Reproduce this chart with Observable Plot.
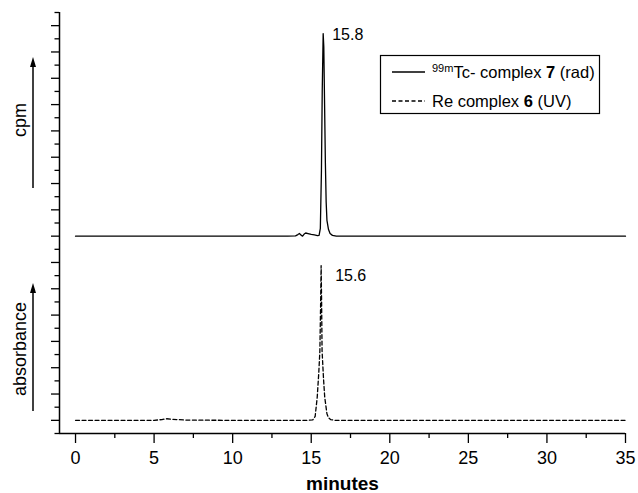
<!DOCTYPE html>
<html>
<head>
<meta charset="utf-8">
<script src="https://cdn.jsdelivr.net/npm/d3@7"></script>
<script src="https://cdn.jsdelivr.net/npm/@observablehq/plot@0.6"></script>
<style>
  html, body { margin: 0; padding: 0; background: #fff; }
  #chart { width: 638px; height: 493px; }
  svg { font-family: "Liberation Sans", Arial, sans-serif; }
</style>
</head>
<body>
<div id="chart"></div>
<script>
// ---- data ----
// radiometric trace (99mTc complex 7), offset baseline at 7
const radTime  = [0, 5, 10, 13.5, 14.0, 14.15, 14.25, 14.35, 14.45, 14.55, 14.65, 14.8, 15.0, 15.2, 15.4, 15.5, 15.58, 15.65, 15.7, 15.76, 15.8, 15.85, 15.9, 15.95, 16.0, 16.1, 16.2, 16.35, 16.6, 20, 25, 30, 35];
const radValue = [7.0, 7.0, 7.0, 7.0, 7.01, 7.06, 7.1, 7.04, 7.0, 7.08, 7.12, 7.1, 7.07, 7.05, 7.02, 7.03, 7.3, 9.5, 12.5, 14.7, 14.2, 12.0, 9.8, 8.3, 7.6, 7.25, 7.1, 7.03, 7.0, 7.0, 7.0, 7.0, 7.0];
// UV trace (Re complex 6), baseline at 0
const uvTime  = [0, 5.0, 5.5, 5.8, 6.2, 7.0, 10, 14.8, 15.1, 15.25, 15.38, 15.48, 15.55, 15.6, 15.63, 15.66, 15.69, 15.78, 15.86, 16.0, 16.1, 16.23, 16.5, 20, 35];
const uvValue = [0.0, 0.0, 0.03, 0.06, 0.04, 0.01, 0.0, 0.0, 0.02, 0.15, 0.87, 1.8, 2.64, 4.5, 5.88, 4.5, 2.64, 1.6, 0.87, 0.25, 0.1, 0.03, 0.0, 0.0, 0.0];

const peakLabels = ["15.8", "15.6"];
const xTicks = [0, 5, 10, 15, 20, 25, 30, 35];
const xMinorTicks = [2.5, 7.5, 12.5, 17.5, 22.5, 27.5, 32.5];
const yMajorTicks = [0, 1, 2, 3, 4, 5, 6, 7, 8, 9, 10, 11, 12, 13, 14, 15];
const yMinorTicks = [-0.5, 0.5, 1.5, 2.5, 3.5, 4.5, 5.5, 6.5, 7.5, 8.5, 9.5, 10.5, 11.5, 12.5, 13.5, 14.5, 15.5];
const xLabel = "minutes";
const yLabelTop = "cpm";
const yLabelBottom = "absorbance";
const legendLabels = [
  {sup: "99m", text: "Tc- complex ", bold: "7", tail: " (rad)"},
  {sup: "", text: "Re complex ", bold: "6", tail: " (UV)"}
];

// ---- build tables ----
const rad = radTime.map((t, i) => ({time: t, value: radValue[i]}));
const uv = uvTime.map((t, i) => ({time: t, value: uvValue[i]}));
const radPeak = d3.greatest(rad, d => d.value);
const uvPeak = d3.greatest(uv, d => d.value);

const xDomain = [-1.02, 35];
const yDomain = [-0.5, 15.5];

const chart = Plot.plot({
  width: 638,
  height: 493,
  marginLeft: 59,
  marginRight: 13,
  marginTop: 12,
  marginBottom: 60,
  x: {domain: xDomain},
  y: {domain: yDomain},
  style: {fontFamily: '"Liberation Sans", Arial, sans-serif', background: "#fff", color: "#000"},
  marks: [
    Plot.axisX(xTicks, {tickSize: 10, tickPadding: 8, fontSize: 18, label: null, strokeWidth: 1.3}),
    Plot.axisX(xMinorTicks, {tickSize: 5, tickFormat: () => "", label: null, strokeWidth: 1.3}),
    Plot.axisY(yMajorTicks, {tickSize: 8, tickFormat: () => "", label: null, strokeWidth: 1.3}),
    Plot.axisY(yMinorTicks, {tickSize: 4.5, tickFormat: () => "", label: null, strokeWidth: 1.3}),
    Plot.ruleX([xDomain[0]], {y1: yDomain[0], y2: yDomain[1], stroke: "#000", strokeWidth: 1.5}),
    Plot.ruleY([yDomain[0]], {x1: xDomain[0], x2: xDomain[1], stroke: "#000", strokeWidth: 1.5}),
    Plot.line(rad, {x: "time", y: "value", stroke: "#000", strokeWidth: 1.3}),
    Plot.line(uv, {x: "time", y: "value", stroke: "#000", strokeWidth: 1.3, strokeDasharray: "4,2.5"}),
    Plot.text([radPeak], {x: "time", y: "value", text: () => peakLabels[0], textAnchor: "start", dx: 9, dy: 1, fontSize: 16}),
    Plot.text([uvPeak], {x: "time", y: "value", text: () => peakLabels[1], textAnchor: "start", dx: 14, dy: 10, fontSize: 16}),
    Plot.text([xLabel], {frameAnchor: "bottom", text: d => d, dy: 56, fontSize: 19, fontWeight: "bold", lineAnchor: "bottom"})
  ]
});

document.getElementById("chart").appendChild(chart);

// ---- y labels with arrows and legend (annotation, outside data) ----
const svg = d3.select(chart);
const ann = svg.append("g").attr("fill", "#000").attr("font-family", '"Liberation Sans", Arial, sans-serif');

function arrow(x, y0, y1) {
  ann.append("line").attr("x1", x).attr("x2", x).attr("y1", y0).attr("y2", y1 + 8)
    .attr("stroke", "#000").attr("stroke-width", 1.5);
  ann.append("path").attr("d", `M${x},${y1} L${x - 3},${y1 + 10} L${x + 3},${y1 + 10} Z`).attr("fill", "#000");
}
arrow(33, 188, 57);
arrow(33, 411, 283);

ann.append("text").attr("transform", "translate(26,120) rotate(-90)").attr("text-anchor", "middle")
  .attr("font-size", 18).text(yLabelTop);
ann.append("text").attr("transform", "translate(26,349) rotate(-90)").attr("text-anchor", "middle")
  .attr("font-size", 18).text(yLabelBottom);

// legend
const lg = svg.append("g").attr("font-family", '"Liberation Sans", Arial, sans-serif').attr("text-anchor", "start");
lg.append("rect").attr("x", 380.5).attr("y", 55.5).attr("width", 219).attr("height", 58)
  .attr("fill", "#fff").attr("stroke", "#000").attr("stroke-width", 1.2);
const rows = [72, 101];
legendLabels.forEach((l, i) => {
  lg.append("line").attr("x1", 392).attr("x2", 425).attr("y1", rows[i]).attr("y2", rows[i])
    .attr("stroke", "#000").attr("stroke-width", 1.3)
    .attr("stroke-dasharray", i === 1 ? "4,2.5" : null);
  const t = lg.append("text").attr("x", 432).attr("y", rows[i] + 6).attr("font-size", 16.5)
    .attr("text-anchor", "start").attr("fill", "#000");
  if (l.sup) t.append("tspan").attr("font-size", 11).attr("dy", -6).text(l.sup);
  t.append("tspan").attr("dy", l.sup ? 6 : 0).text(l.text);
  t.append("tspan").attr("font-weight", "bold").text(l.bold);
  t.append("tspan").text(l.tail);
});
</script>
</body>
</html>
